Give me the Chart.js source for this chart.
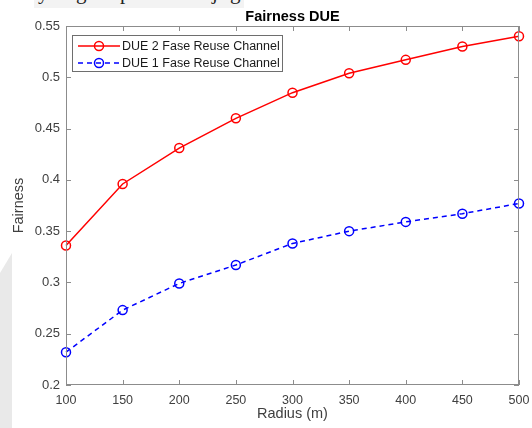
<!DOCTYPE html>
<html>
<head>
<meta charset="utf-8">
<script src="https://cdn.jsdelivr.net/npm/chart.js@4"></script>
<style>
    html, body { margin: 0; padding: 0; background: #fff; }
    #wrap { position: relative; width: 532px; height: 428px; overflow: hidden; }
    #strip { position: absolute; left: 0; top: 0; width: 12px; height: 428px; background: #e9e9e9;
             clip-path: polygon(0 273px, 12px 253px, 12px 428px, 0 428px); }
    #frag { position: absolute; left: 34px; top: 0; width: 210px; height: 8px; background: #f3f3f3; overflow: hidden; }
    #frag span { position: absolute; top: -19px; line-height: 22px; font-family: "Liberation Serif", serif; font-size: 21px; color: #222; }
    canvas { position: absolute; left: 0; top: 0; }
</style>
</head>
<body>
<div id="wrap">
    <div id="strip"></div>
    <div id="frag"><span style="left:4px">y</span><span style="left:42px">g</span><span style="left:86px">p</span><span style="left:178px">j</span><span style="left:196px">g</span></div>
    <canvas id="fairChart" width="532" height="428"></canvas>
</div>
<script>
"use strict";

// data
var radius = [100, 150, 200, 250, 300, 350, 400, 450, 500];
var due2 = [0.336, 0.396, 0.431, 0.460, 0.485, 0.504, 0.517, 0.530, 0.540];
var due1 = [0.232, 0.273, 0.299, 0.317, 0.338, 0.350, 0.359, 0.367, 0.377];
var yTicks = [0.2, 0.25, 0.3, 0.35, 0.4, 0.45, 0.5, 0.55];
var xTicks = [100, 150, 200, 250, 300, 350, 400, 450, 500];
var chartTitle = 'Fairness DUE';

var axisColor = '#8c8c8c';
var textColor = '#404040';
var fontFamily = '"Liberation Sans", Arial, sans-serif';

function toPoints(xs, ys) {
    return xs.map(function (x, i) { return { x: x, y: ys[i] }; });
}

// matlab style box with inward ticks, title centred over the axes
var boxTicks = {
    id: 'boxTicks',
    afterDraw: function (chart) {
        var ctx = chart.ctx, a = chart.chartArea;
        var xs = chart.scales.x, ys = chart.scales.y;
        ctx.save();
        ctx.strokeStyle = axisColor;
        ctx.lineWidth = 1;
        ctx.strokeRect(a.left + 0.5, a.top + 0.5, a.right - a.left - 1, a.bottom - a.top - 1);
        ctx.beginPath();
        xTicks.forEach(function (t) {
            var px = Math.round(xs.getPixelForValue(t)) + 0.5;
            ctx.moveTo(px, a.bottom); ctx.lineTo(px, a.bottom - 5);
            ctx.moveTo(px, a.top); ctx.lineTo(px, a.top + 5);
        });
        yTicks.forEach(function (t) {
            var py = Math.round(ys.getPixelForValue(t)) + 0.5;
            ctx.moveTo(a.left, py); ctx.lineTo(a.left + 5, py);
            ctx.moveTo(a.right, py); ctx.lineTo(a.right - 5, py);
        });
        ctx.stroke();

        ctx.fillStyle = '#000';
        ctx.font = 'bold 14.5px ' + fontFamily;
        ctx.textAlign = 'center';
        ctx.textBaseline = 'alphabetic';
        ctx.fillText(chartTitle, (a.left + a.right) / 2, a.top - 5);
        ctx.restore();
    }
};

// legend drawn like matlab: line + marker + label inside a box
var boxLegend = {
    id: 'boxLegend',
    afterDraw: function (chart) {
        var ctx = chart.ctx, a = chart.chartArea;
        var x0 = a.left + 6, y0 = a.top + 9, w = 211, h = 37;
        ctx.save();
        ctx.fillStyle = '#fff';
        ctx.fillRect(x0, y0, w, h);
        ctx.strokeStyle = '#6e6e6e';
        ctx.lineWidth = 1;
        ctx.strokeRect(x0 + 0.5, y0 + 0.5, w - 1, h - 1);
        chart.data.datasets.forEach(function (ds, i) {
            var ry = y0 + 11 + i * 17;
            ctx.strokeStyle = ds.borderColor;
            ctx.lineWidth = 1.5;
            ctx.setLineDash(ds.borderDash || []);
            ctx.beginPath();
            ctx.moveTo(x0 + 6, ry); ctx.lineTo(x0 + 48, ry);
            ctx.stroke();
            ctx.setLineDash([]);
            ctx.beginPath();
            ctx.arc(x0 + 27, ry, 4.5, 0, Math.PI * 2);
            ctx.stroke();
            ctx.fillStyle = '#1a1a1a';
            ctx.font = '12.5px ' + fontFamily;
            ctx.textBaseline = 'middle';
            ctx.fillText(ds.label, x0 + 50, ry + 0.5);
        });
        ctx.restore();
    }
};

var ctx = document.getElementById('fairChart').getContext('2d');
new Chart(ctx, {
    type: 'line',
    data: {
        datasets: [{
            label: 'DUE 2 Fase Reuse Channel',
            data: toPoints(radius, due2),
            borderColor: '#ff0000',
            borderWidth: 1.5,
            pointRadius: 4.5,
            pointBorderWidth: 1.5,
            pointBackgroundColor: 'rgba(0,0,0,0)',
            pointBorderColor: '#ff0000',
            tension: 0
        }, {
            label: 'DUE 1 Fase Reuse Channel',
            data: toPoints(radius, due1),
            borderColor: '#0000ff',
            borderWidth: 1.5,
            borderDash: [5, 4],
            pointRadius: 4.5,
            pointBorderWidth: 1.5,
            pointBackgroundColor: 'rgba(0,0,0,0)',
            pointBorderColor: '#0000ff',
            tension: 0
        }]
    },
    options: {
        responsive: false,
        animation: false,
        clip: false,
        layout: {
            padding: { left: 8, right: 13, top: 26, bottom: 0 }
        },
        plugins: {
            legend: { display: false },
            tooltip: { enabled: false },
            title: { display: false }
        },
        scales: {
            x: {
                type: 'linear',
                min: 100,
                max: 500,
                afterBuildTicks: function (scale) {
                    scale.ticks = xTicks.map(function (v) { return { value: v }; });
                },
                afterFit: function (scale) {
                    scale.height = 43;
                    scale.paddingLeft = 0;
                    scale.paddingRight = 0;
                },
                grid: { display: false, drawTicks: false },
                border: { display: false },
                ticks: {
                    color: textColor,
                    padding: 8,
                    maxRotation: 0,
                    font: { family: fontFamily, size: 12.5 }
                },
                title: {
                    display: true,
                    text: 'Radius (m)',
                    color: textColor,
                    padding: { top: 0, bottom: 5 },
                    font: { family: fontFamily, size: 14.5 }
                }
            },
            y: {
                min: 0.2,
                max: 0.55,
                afterBuildTicks: function (scale) {
                    scale.ticks = yTicks.map(function (v) { return { value: v }; });
                },
                afterFit: function (scale) {
                    scale.width = 58;
                    scale.paddingTop = 0;
                    scale.paddingBottom = 0;
                },
                grid: { display: false, drawTicks: false },
                border: { display: false },
                ticks: {
                    color: textColor,
                    padding: 6,
                    font: { family: fontFamily, size: 13 },
                    callback: function (v) { return String(parseFloat(v.toFixed(2))); }
                },
                title: {
                    display: true,
                    text: 'Fairness',
                    color: textColor,
                    padding: { top: 2, bottom: 0 },
                    font: { family: fontFamily, size: 14.5 }
                }
            }
        }
    },
    plugins: [boxTicks, boxLegend]
});
</script>
</body>
</html>
